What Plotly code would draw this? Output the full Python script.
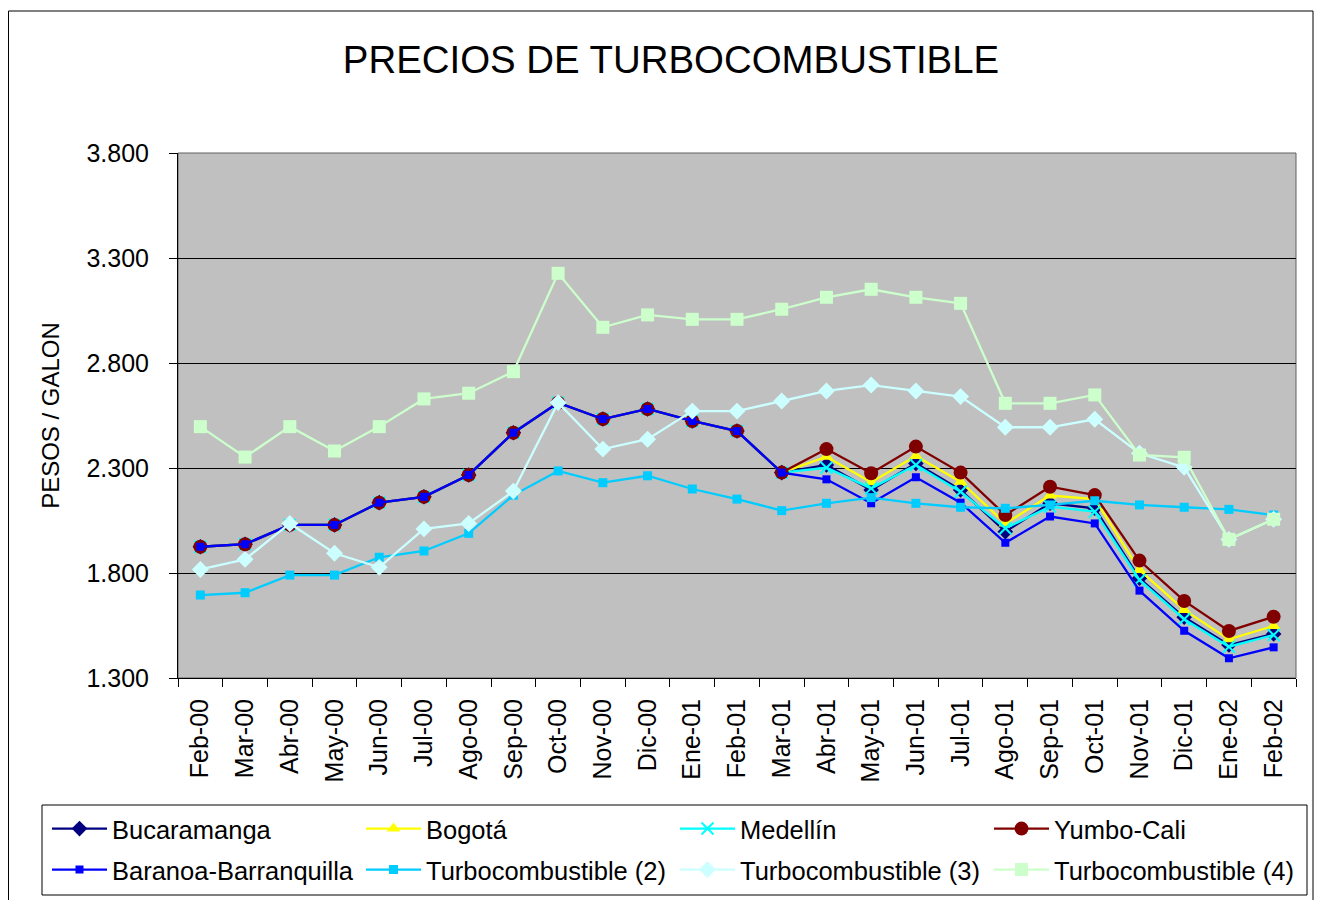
import plotly.graph_objects as go

months = ["Feb-00", "Mar-00", "Abr-00", "May-00", "Jun-00", "Jul-00", "Ago-00", "Sep-00",
          "Oct-00", "Nov-00", "Dic-00", "Ene-01", "Feb-01", "Mar-01", "Abr-01", "May-01",
          "Jun-01", "Jul-01", "Ago-01", "Sep-01", "Oct-01", "Nov-01", "Dic-01", "Ene-02", "Feb-02"]

bucaramanga = [1925, 1937, 2029, 2029, 2135, 2163, 2267, 2468, 2611, 2533, 2581, 2524, 2476,
               2278, 2314, 2195, 2322, 2195, 1997, 2132, 2108, 1775, 1589, 1457, 1510]
bogota = [1925, 1937, 2029, 2029, 2135, 2163, 2267, 2468, 2611, 2533, 2581, 2524, 2476,
          2278, 2354, 2232, 2357, 2235, 2036, 2169, 2152, 1814, 1624, 1484, 1548]
medellin = [1925, 1937, 2029, 2029, 2135, 2163, 2267, 2468, 2611, 2533, 2581, 2524, 2476,
            2278, 2301, 2203, 2314, 2187, 2013, 2116, 2092, 1767, 1580, 1449, 1505]
yumbo_cali = [1925, 1937, 2029, 2029, 2135, 2163, 2267, 2468, 2611, 2533, 2581, 2524, 2476,
              2278, 2390, 2275, 2402, 2278, 2076, 2211, 2171, 1859, 1667, 1524, 1592]
baranoa = [1925, 1937, 2029, 2029, 2135, 2163, 2267, 2468, 2611, 2533, 2581, 2524, 2476,
           2278, 2246, 2132, 2256, 2135, 1944, 2069, 2036, 1716, 1525, 1394, 1446]
turbo2 = [1695, 1706, 1790, 1790, 1875, 1905, 1989, 2171, 2286, 2230, 2263, 2200, 2152,
          2097, 2132, 2159, 2132, 2113, 2108, 2124, 2144, 2124, 2113, 2103, 2076]
turbo3 = [1817, 1865, 2036, 1894, 1827, 2010, 2036, 2190, 2611, 2390, 2437, 2571, 2571,
          2619, 2667, 2695, 2667, 2640, 2494, 2494, 2532, 2370, 2303, 1960, 2056]
turbo4 = [2497, 2352, 2497, 2381, 2497, 2629, 2656, 2759, 3227, 2970, 3029, 3008, 3008,
          3056, 3113, 3151, 3113, 3084, 2608, 2608, 2648, 2362, 2351, 1960, 2056]

series = [
    ("Bucaramanga", bucaramanga, "#000080", "diamond", 12),
    ("Bogotá", bogota, "#FFFF00", "triangle-up", 12),
    ("Medellín", medellin, "#00FFFF", "x-thin-open", 12),
    ("Yumbo-Cali", yumbo_cali, "#800000", "circle", 14),
    ("Baranoa-Barranquilla", baranoa, "#0000FF", "square", 8),
    ("Turbocombustible (2)", turbo2, "#00CCFF", "square", 9),
    ("Turbocombustible (3)", turbo3, "#CCFFFF", "diamond", 13),
    ("Turbocombustible (4)", turbo4, "#CCFFCC", "square", 13),
]

FONT = "Liberation Sans, Arial, sans-serif"

# figure is offset by the page's 8px body margin
W, H = 1314, 892
L, T, R, B = 170, 145, 26, 222
PW, PH = W - L - R, H - T - B


def px(fx):
    return (fx - L) / PW


def pyb(below):
    # position given in pixels below the plot area's bottom edge
    return -below / PH


def pya(above):
    # position given in pixels above the plot area's bottom edge
    return above / PH


fig = go.Figure()
legend_cols = [39, 353, 667, 981]
legend_rows = [151, 192]
layout_legends = {}
for i, (name, vals, color, sym, size) in enumerate(series):
    marker = dict(symbol=sym, size=size, color=color)
    if sym == "x-thin-open":
        marker["line"] = dict(color=color, width=2)
    else:
        marker["line"] = dict(width=0)
    lg = "legend" if i == 0 else f"legend{i + 1}"
    fig.add_trace(go.Scatter(
        x=months, y=vals, name=name, mode="lines+markers",
        line=dict(color=color, width=2.3), marker=marker, legend=lg,
    ))
    layout_legends[lg] = dict(
        x=px(legend_cols[i % 4]), xanchor="left",
        y=pyb(legend_rows[i // 4]), yanchor="middle",
        orientation="h", itemwidth=55, font=dict(size=25.5, family=FONT, color="black"),
        bgcolor="rgba(0,0,0,0)", borderwidth=0, itemsizing="trace",
    )

fig.update_layout(
    template="none",
    width=W, height=H,
    margin=dict(l=L, r=R, t=T, b=B, autoexpand=False),
    paper_bgcolor="white", plot_bgcolor="#C0C0C0",
    separators=",.",
    font=dict(family=FONT, size=25, color="black"),
    title=dict(text="PRECIOS DE TURBOCOMBUSTIBLE", x=663 / W, xanchor="center",
               y=1 - 52 / H, yanchor="middle", font=dict(size=38.4, family=FONT, color="black")),
    showlegend=True,
    xaxis=dict(type="category", tickangle=-90, showgrid=False, ticks="outside",
               tickson="boundaries", ticklen=8, tickcolor="black", tickwidth=1,
               showline=True, linecolor="black", linewidth=1, ticklabelstandoff=10,
               tickfont=dict(size=25, family=FONT), range=[-0.5, 24.5], automargin=False),
    yaxis=dict(range=[1300, 3800], tick0=1300, dtick=500, tickformat=",d", showgrid=True,
               gridcolor="black", gridwidth=1, ticks="outside", ticklen=8, tickwidth=1,
               tickcolor="black", showline=True, linecolor="black", linewidth=1,
               zeroline=False, tickfont=dict(size=25, family=FONT), ticklabelstandoff=15,
               automargin=False,
               title=dict(text="PESOS / GALON", font=dict(size=24, family=FONT), standoff=20)),
    **layout_legends,
)

# plot area border, outer chart border, legend box
fig.add_shape(type="rect", xref="paper", yref="paper", x0=0, x1=1, y0=0, y1=1,
              line=dict(color="#606060", width=1), layer="below")
fig.add_shape(type="rect", xref="paper", yref="paper",
              x0=px(0.5), x1=px(1305), y0=pyb(240), y1=pya(667),
              line=dict(color="black", width=1))
fig.add_shape(type="rect", xref="paper", yref="paper",
              x0=px(34), x1=px(1299), y0=pyb(217), y1=pyb(127),
              line=dict(color="black", width=1))

fig.write_html("out.html")
